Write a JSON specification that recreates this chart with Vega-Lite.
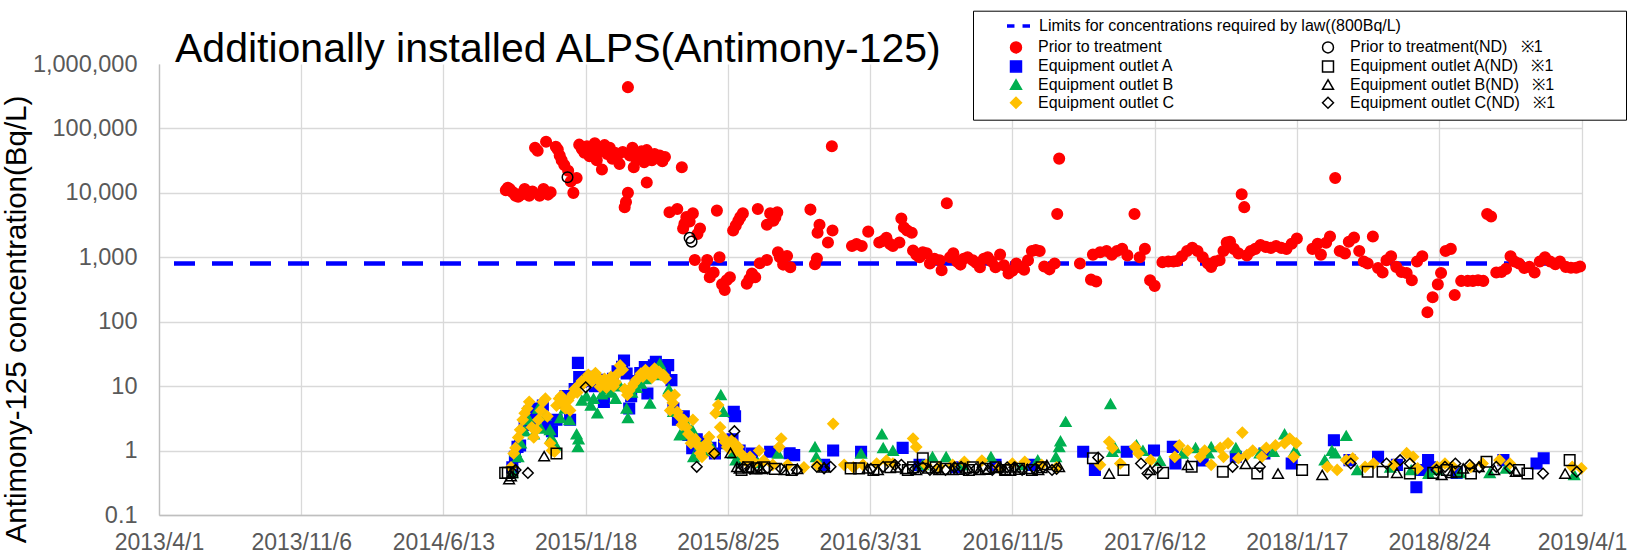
{
  "$schema": "https://vega.github.io/schema/vega-lite/v6.json",
  "autosize": {"type": "none"},
  "padding": {"left": 159, "top": 64, "right": 58, "bottom": 39},
  "width": 1423,
  "height": 451,
  "background": "#ffffff",
  "config": {"view": {"stroke": null}},
  "title": {"text": "Additionally installed ALPS(Antimony-125)", "anchor": "start", "frame": "group", "dx": 16, "fontSize": 41, "font": "Liberation Sans", "fontWeight": "normal", "color": "#000000", "baseline": "alphabetic", "offset": -93},
  "layer": [
    {
      "data": {"values": [{"limit": "Limits for concentrations required by law((800Bq/L)", "value": 800}]},
      "mark": {"type": "rule", "stroke": "#0000ff", "strokeWidth": 4.5, "strokeDashOffset": 19},
      "encoding": {
        "y": {"field": "value", "type": "quantitative", "scale": {"type": "log", "domain": [0.1, 1000000]}},
        "strokeDash": {"field": "limit", "type": "nominal", "scale": {"domain": ["Limits for concentrations required by law((800Bq/L)"], "range": [[21, 17]]},
          "legend": {"orient": "none", "legendX": 846, "legendY": -51.5, "title": null, "symbolType": "M-1,0H-0.35M0.35,0H1", "symbolSize": 529, "symbolStrokeColor": "#0000ff", "symbolStrokeWidth": 3.5, "labelFontSize": 16, "labelFont": "Liberation Sans", "labelColor": "#000000", "labelOffset": 7, "labelLimit": 600, "padding": 0, "zindex": 2}}
      }
    },
    {
      "data": {"values": [
        {"date":"2014-09-17","value":11000,"series":"Prior to treatment"},
        {"date":"2014-09-20","value":12000,"series":"Prior to treatment"},
        {"date":"2014-09-23","value":11500,"series":"Prior to treatment"},
        {"date":"2014-09-26","value":10500,"series":"Prior to treatment"},
        {"date":"2014-09-29","value":10000,"series":"Prior to treatment"},
        {"date":"2014-10-02","value":9000,"series":"Prior to treatment"},
        {"date":"2014-10-06","value":8700,"series":"Prior to treatment"},
        {"date":"2014-10-09","value":9200,"series":"Prior to treatment"},
        {"date":"2014-10-13","value":10000,"series":"Prior to treatment"},
        {"date":"2014-10-16","value":11500,"series":"Prior to treatment"},
        {"date":"2014-10-20","value":9500,"series":"Prior to treatment"},
        {"date":"2014-10-23","value":9000,"series":"Prior to treatment"},
        {"date":"2014-10-28","value":10500,"series":"Prior to treatment"},
        {"date":"2014-11-01","value":50000,"series":"Prior to treatment"},
        {"date":"2014-11-05","value":45000,"series":"Prior to treatment"},
        {"date":"2014-11-08","value":9000,"series":"Prior to treatment"},
        {"date":"2014-11-11","value":9800,"series":"Prior to treatment"},
        {"date":"2014-11-14","value":11500,"series":"Prior to treatment"},
        {"date":"2014-11-18","value":62000,"series":"Prior to treatment"},
        {"date":"2014-11-21","value":9400,"series":"Prior to treatment"},
        {"date":"2014-11-25","value":10200,"series":"Prior to treatment"},
        {"date":"2014-12-03","value":52000,"series":"Prior to treatment"},
        {"date":"2014-12-06","value":47000,"series":"Prior to treatment"},
        {"date":"2014-12-09","value":38000,"series":"Prior to treatment"},
        {"date":"2014-12-12","value":32000,"series":"Prior to treatment"},
        {"date":"2014-12-16","value":27000,"series":"Prior to treatment"},
        {"date":"2014-12-22","value":22000,"series":"Prior to treatment"},
        {"date":"2014-12-26","value":15000,"series":"Prior to treatment"},
        {"date":"2014-12-30","value":10000,"series":"Prior to treatment"},
        {"date":"2015-01-04","value":17000,"series":"Prior to treatment"},
        {"date":"2015-01-08","value":56000,"series":"Prior to treatment"},
        {"date":"2015-01-12","value":48000,"series":"Prior to treatment"},
        {"date":"2015-01-16","value":42000,"series":"Prior to treatment"},
        {"date":"2015-01-20","value":53000,"series":"Prior to treatment"},
        {"date":"2015-01-24","value":37000,"series":"Prior to treatment"},
        {"date":"2015-01-28","value":46000,"series":"Prior to treatment"},
        {"date":"2015-02-01","value":59000,"series":"Prior to treatment"},
        {"date":"2015-02-04","value":32000,"series":"Prior to treatment"},
        {"date":"2015-02-08","value":44000,"series":"Prior to treatment"},
        {"date":"2015-02-12","value":23000,"series":"Prior to treatment"},
        {"date":"2015-02-16","value":55000,"series":"Prior to treatment"},
        {"date":"2015-02-20","value":40000,"series":"Prior to treatment"},
        {"date":"2015-02-24","value":50000,"series":"Prior to treatment"},
        {"date":"2015-02-28","value":34000,"series":"Prior to treatment"},
        {"date":"2015-03-04","value":42000,"series":"Prior to treatment"},
        {"date":"2015-03-07","value":36000,"series":"Prior to treatment"},
        {"date":"2015-03-11","value":28000,"series":"Prior to treatment"},
        {"date":"2015-03-16","value":43000,"series":"Prior to treatment"},
        {"date":"2015-03-19","value":6000,"series":"Prior to treatment"},
        {"date":"2015-03-21","value":7200,"series":"Prior to treatment"},
        {"date":"2015-03-24","value":10000,"series":"Prior to treatment"},
        {"date":"2015-03-24","value":437000,"series":"Prior to treatment"},
        {"date":"2015-03-27","value":38000,"series":"Prior to treatment"},
        {"date":"2015-03-31","value":50000,"series":"Prior to treatment"},
        {"date":"2015-04-02","value":25000,"series":"Prior to treatment"},
        {"date":"2015-04-06","value":33000,"series":"Prior to treatment"},
        {"date":"2015-04-10","value":37000,"series":"Prior to treatment"},
        {"date":"2015-04-14","value":44000,"series":"Prior to treatment"},
        {"date":"2015-04-18","value":30000,"series":"Prior to treatment"},
        {"date":"2015-04-22","value":46000,"series":"Prior to treatment"},
        {"date":"2015-04-22","value":14500,"series":"Prior to treatment"},
        {"date":"2015-04-26","value":33000,"series":"Prior to treatment"},
        {"date":"2015-04-30","value":32000,"series":"Prior to treatment"},
        {"date":"2015-05-04","value":40000,"series":"Prior to treatment"},
        {"date":"2015-05-08","value":35000,"series":"Prior to treatment"},
        {"date":"2015-05-12","value":38000,"series":"Prior to treatment"},
        {"date":"2015-05-16","value":31000,"series":"Prior to treatment"},
        {"date":"2015-05-20","value":36000,"series":"Prior to treatment"},
        {"date":"2015-05-27","value":5000,"series":"Prior to treatment"},
        {"date":"2015-06-08","value":5600,"series":"Prior to treatment"},
        {"date":"2015-06-15","value":25000,"series":"Prior to treatment"},
        {"date":"2015-06-17","value":2800,"series":"Prior to treatment"},
        {"date":"2015-06-19","value":3300,"series":"Prior to treatment"},
        {"date":"2015-06-22","value":4200,"series":"Prior to treatment"},
        {"date":"2015-06-27","value":3600,"series":"Prior to treatment"},
        {"date":"2015-07-02","value":4800,"series":"Prior to treatment"},
        {"date":"2015-07-05","value":910,"series":"Prior to treatment"},
        {"date":"2015-07-09","value":2300,"series":"Prior to treatment"},
        {"date":"2015-07-13","value":2800,"series":"Prior to treatment"},
        {"date":"2015-07-20","value":700,"series":"Prior to treatment"},
        {"date":"2015-07-24","value":910,"series":"Prior to treatment"},
        {"date":"2015-07-28","value":490,"series":"Prior to treatment"},
        {"date":"2015-08-03","value":580,"series":"Prior to treatment"},
        {"date":"2015-08-08","value":5300,"series":"Prior to treatment"},
        {"date":"2015-08-12","value":1000,"series":"Prior to treatment"},
        {"date":"2015-08-16","value":380,"series":"Prior to treatment"},
        {"date":"2015-08-20","value":310,"series":"Prior to treatment"},
        {"date":"2015-08-23","value":440,"series":"Prior to treatment"},
        {"date":"2015-08-28","value":490,"series":"Prior to treatment"},
        {"date":"2015-09-02","value":2600,"series":"Prior to treatment"},
        {"date":"2015-09-06","value":3100,"series":"Prior to treatment"},
        {"date":"2015-09-10","value":3700,"series":"Prior to treatment"},
        {"date":"2015-09-13","value":4200,"series":"Prior to treatment"},
        {"date":"2015-09-17","value":4800,"series":"Prior to treatment"},
        {"date":"2015-09-23","value":390,"series":"Prior to treatment"},
        {"date":"2015-09-27","value":460,"series":"Prior to treatment"},
        {"date":"2015-10-01","value":560,"series":"Prior to treatment"},
        {"date":"2015-10-06","value":490,"series":"Prior to treatment"},
        {"date":"2015-10-10","value":5600,"series":"Prior to treatment"},
        {"date":"2015-10-13","value":810,"series":"Prior to treatment"},
        {"date":"2015-10-24","value":910,"series":"Prior to treatment"},
        {"date":"2015-10-24","value":3200,"series":"Prior to treatment"},
        {"date":"2015-10-29","value":4800,"series":"Prior to treatment"},
        {"date":"2015-11-03","value":3700,"series":"Prior to treatment"},
        {"date":"2015-11-06","value":4200,"series":"Prior to treatment"},
        {"date":"2015-11-09","value":5000,"series":"Prior to treatment"},
        {"date":"2015-11-10","value":1200,"series":"Prior to treatment"},
        {"date":"2015-11-13","value":1000,"series":"Prior to treatment"},
        {"date":"2015-11-18","value":770,"series":"Prior to treatment"},
        {"date":"2015-11-24","value":1050,"series":"Prior to treatment"},
        {"date":"2015-11-29","value":700,"series":"Prior to treatment"},
        {"date":"2015-12-30","value":5500,"series":"Prior to treatment"},
        {"date":"2016-01-06","value":780,"series":"Prior to treatment"},
        {"date":"2016-01-09","value":960,"series":"Prior to treatment"},
        {"date":"2016-01-10","value":2400,"series":"Prior to treatment"},
        {"date":"2016-01-13","value":3200,"series":"Prior to treatment"},
        {"date":"2016-01-26","value":1700,"series":"Prior to treatment"},
        {"date":"2016-02-01","value":53000,"series":"Prior to treatment"},
        {"date":"2016-02-02","value":2600,"series":"Prior to treatment"},
        {"date":"2016-03-03","value":1500,"series":"Prior to treatment"},
        {"date":"2016-03-10","value":1600,"series":"Prior to treatment"},
        {"date":"2016-03-18","value":1500,"series":"Prior to treatment"},
        {"date":"2016-03-28","value":2500,"series":"Prior to treatment"},
        {"date":"2016-04-14","value":1700,"series":"Prior to treatment"},
        {"date":"2016-04-20","value":1800,"series":"Prior to treatment"},
        {"date":"2016-04-25","value":2000,"series":"Prior to treatment"},
        {"date":"2016-05-01","value":1600,"series":"Prior to treatment"},
        {"date":"2016-05-05","value":1500,"series":"Prior to treatment"},
        {"date":"2016-05-15","value":1700,"series":"Prior to treatment"},
        {"date":"2016-05-18","value":4000,"series":"Prior to treatment"},
        {"date":"2016-05-22","value":2900,"series":"Prior to treatment"},
        {"date":"2016-05-27","value":2600,"series":"Prior to treatment"},
        {"date":"2016-06-03","value":2400,"series":"Prior to treatment"},
        {"date":"2016-06-05","value":1270,"series":"Prior to treatment"},
        {"date":"2016-06-10","value":1100,"series":"Prior to treatment"},
        {"date":"2016-06-15","value":1000,"series":"Prior to treatment"},
        {"date":"2016-06-20","value":1200,"series":"Prior to treatment"},
        {"date":"2016-06-26","value":1150,"series":"Prior to treatment"},
        {"date":"2016-07-01","value":800,"series":"Prior to treatment"},
        {"date":"2016-07-08","value":950,"series":"Prior to treatment"},
        {"date":"2016-07-16","value":900,"series":"Prior to treatment"},
        {"date":"2016-07-19","value":630,"series":"Prior to treatment"},
        {"date":"2016-07-27","value":6900,"series":"Prior to treatment"},
        {"date":"2016-08-01","value":1000,"series":"Prior to treatment"},
        {"date":"2016-08-06","value":1150,"series":"Prior to treatment"},
        {"date":"2016-08-12","value":850,"series":"Prior to treatment"},
        {"date":"2016-08-17","value":770,"series":"Prior to treatment"},
        {"date":"2016-08-22","value":950,"series":"Prior to treatment"},
        {"date":"2016-08-28","value":1000,"series":"Prior to treatment"},
        {"date":"2016-09-05","value":900,"series":"Prior to treatment"},
        {"date":"2016-09-10","value":820,"series":"Prior to treatment"},
        {"date":"2016-09-16","value":700,"series":"Prior to treatment"},
        {"date":"2016-09-22","value":950,"series":"Prior to treatment"},
        {"date":"2016-09-28","value":1000,"series":"Prior to treatment"},
        {"date":"2016-10-04","value":860,"series":"Prior to treatment"},
        {"date":"2016-10-10","value":700,"series":"Prior to treatment"},
        {"date":"2016-10-17","value":1100,"series":"Prior to treatment"},
        {"date":"2016-10-23","value":750,"series":"Prior to treatment"},
        {"date":"2016-10-30","value":560,"series":"Prior to treatment"},
        {"date":"2016-11-05","value":620,"series":"Prior to treatment"},
        {"date":"2016-11-11","value":800,"series":"Prior to treatment"},
        {"date":"2016-11-17","value":700,"series":"Prior to treatment"},
        {"date":"2016-11-23","value":640,"series":"Prior to treatment"},
        {"date":"2016-11-29","value":900,"series":"Prior to treatment"},
        {"date":"2016-12-05","value":1250,"series":"Prior to treatment"},
        {"date":"2016-12-11","value":1300,"series":"Prior to treatment"},
        {"date":"2016-12-17","value":1250,"series":"Prior to treatment"},
        {"date":"2016-12-24","value":720,"series":"Prior to treatment"},
        {"date":"2017-01-01","value":650,"series":"Prior to treatment"},
        {"date":"2017-01-09","value":800,"series":"Prior to treatment"},
        {"date":"2017-01-13","value":4700,"series":"Prior to treatment"},
        {"date":"2017-01-16","value":34000,"series":"Prior to treatment"},
        {"date":"2017-02-17","value":800,"series":"Prior to treatment"},
        {"date":"2017-03-06","value":450,"series":"Prior to treatment"},
        {"date":"2017-03-09","value":1100,"series":"Prior to treatment"},
        {"date":"2017-03-14","value":420,"series":"Prior to treatment"},
        {"date":"2017-03-20","value":1200,"series":"Prior to treatment"},
        {"date":"2017-03-30","value":1250,"series":"Prior to treatment"},
        {"date":"2017-04-07","value":1100,"series":"Prior to treatment"},
        {"date":"2017-04-15","value":1250,"series":"Prior to treatment"},
        {"date":"2017-04-23","value":1350,"series":"Prior to treatment"},
        {"date":"2017-05-01","value":1070,"series":"Prior to treatment"},
        {"date":"2017-05-12","value":4700,"series":"Prior to treatment"},
        {"date":"2017-05-20","value":1000,"series":"Prior to treatment"},
        {"date":"2017-05-28","value":1350,"series":"Prior to treatment"},
        {"date":"2017-06-05","value":440,"series":"Prior to treatment"},
        {"date":"2017-06-12","value":360,"series":"Prior to treatment"},
        {"date":"2017-06-24","value":840,"series":"Prior to treatment"},
        {"date":"2017-07-03","value":860,"series":"Prior to treatment"},
        {"date":"2017-07-11","value":860,"series":"Prior to treatment"},
        {"date":"2017-07-17","value":880,"series":"Prior to treatment"},
        {"date":"2017-07-24","value":1035,"series":"Prior to treatment"},
        {"date":"2017-08-01","value":1250,"series":"Prior to treatment"},
        {"date":"2017-08-09","value":1400,"series":"Prior to treatment"},
        {"date":"2017-08-17","value":1250,"series":"Prior to treatment"},
        {"date":"2017-08-25","value":1000,"series":"Prior to treatment"},
        {"date":"2017-09-02","value":800,"series":"Prior to treatment"},
        {"date":"2017-09-07","value":710,"series":"Prior to treatment"},
        {"date":"2017-09-13","value":860,"series":"Prior to treatment"},
        {"date":"2017-09-20","value":900,"series":"Prior to treatment"},
        {"date":"2017-09-26","value":1250,"series":"Prior to treatment"},
        {"date":"2017-10-01","value":1700,"series":"Prior to treatment"},
        {"date":"2017-10-06","value":1740,"series":"Prior to treatment"},
        {"date":"2017-10-12","value":1350,"series":"Prior to treatment"},
        {"date":"2017-10-19","value":1150,"series":"Prior to treatment"},
        {"date":"2017-10-24","value":9500,"series":"Prior to treatment"},
        {"date":"2017-10-28","value":6000,"series":"Prior to treatment"},
        {"date":"2017-11-01","value":1070,"series":"Prior to treatment"},
        {"date":"2017-11-07","value":1250,"series":"Prior to treatment"},
        {"date":"2017-11-14","value":1350,"series":"Prior to treatment"},
        {"date":"2017-11-22","value":1550,"series":"Prior to treatment"},
        {"date":"2017-11-30","value":1450,"series":"Prior to treatment"},
        {"date":"2017-12-08","value":1400,"series":"Prior to treatment"},
        {"date":"2017-12-16","value":1500,"series":"Prior to treatment"},
        {"date":"2017-12-24","value":1400,"series":"Prior to treatment"},
        {"date":"2018-01-01","value":1350,"series":"Prior to treatment"},
        {"date":"2018-01-09","value":1620,"series":"Prior to treatment"},
        {"date":"2018-01-17","value":1960,"series":"Prior to treatment"},
        {"date":"2018-02-10","value":1350,"series":"Prior to treatment"},
        {"date":"2018-02-18","value":1620,"series":"Prior to treatment"},
        {"date":"2018-02-23","value":1100,"series":"Prior to treatment"},
        {"date":"2018-03-03","value":1680,"series":"Prior to treatment"},
        {"date":"2018-03-09","value":2100,"series":"Prior to treatment"},
        {"date":"2018-03-17","value":17000,"series":"Prior to treatment"},
        {"date":"2018-03-24","value":1250,"series":"Prior to treatment"},
        {"date":"2018-04-01","value":1150,"series":"Prior to treatment"},
        {"date":"2018-04-07","value":1740,"series":"Prior to treatment"},
        {"date":"2018-04-15","value":2020,"series":"Prior to treatment"},
        {"date":"2018-04-23","value":1250,"series":"Prior to treatment"},
        {"date":"2018-04-30","value":860,"series":"Prior to treatment"},
        {"date":"2018-05-06","value":800,"series":"Prior to treatment"},
        {"date":"2018-05-14","value":2100,"series":"Prior to treatment"},
        {"date":"2018-05-22","value":680,"series":"Prior to treatment"},
        {"date":"2018-05-29","value":580,"series":"Prior to treatment"},
        {"date":"2018-06-04","value":900,"series":"Prior to treatment"},
        {"date":"2018-06-11","value":1035,"series":"Prior to treatment"},
        {"date":"2018-06-19","value":710,"series":"Prior to treatment"},
        {"date":"2018-06-27","value":590,"series":"Prior to treatment"},
        {"date":"2018-07-05","value":570,"series":"Prior to treatment"},
        {"date":"2018-07-13","value":440,"series":"Prior to treatment"},
        {"date":"2018-07-21","value":860,"series":"Prior to treatment"},
        {"date":"2018-07-29","value":1035,"series":"Prior to treatment"},
        {"date":"2018-08-06","value":140,"series":"Prior to treatment"},
        {"date":"2018-08-14","value":240,"series":"Prior to treatment"},
        {"date":"2018-08-22","value":380,"series":"Prior to treatment"},
        {"date":"2018-08-27","value":570,"series":"Prior to treatment"},
        {"date":"2018-09-03","value":1250,"series":"Prior to treatment"},
        {"date":"2018-09-11","value":1350,"series":"Prior to treatment"},
        {"date":"2018-09-17","value":260,"series":"Prior to treatment"},
        {"date":"2018-09-27","value":430,"series":"Prior to treatment"},
        {"date":"2018-10-07","value":430,"series":"Prior to treatment"},
        {"date":"2018-10-15","value":430,"series":"Prior to treatment"},
        {"date":"2018-10-23","value":440,"series":"Prior to treatment"},
        {"date":"2018-10-31","value":430,"series":"Prior to treatment"},
        {"date":"2018-11-06","value":4700,"series":"Prior to treatment"},
        {"date":"2018-11-12","value":4300,"series":"Prior to treatment"},
        {"date":"2018-11-20","value":580,"series":"Prior to treatment"},
        {"date":"2018-11-28","value":590,"series":"Prior to treatment"},
        {"date":"2018-12-05","value":660,"series":"Prior to treatment"},
        {"date":"2018-12-12","value":1035,"series":"Prior to treatment"},
        {"date":"2018-12-18","value":860,"series":"Prior to treatment"},
        {"date":"2018-12-25","value":800,"series":"Prior to treatment"},
        {"date":"2019-01-02","value":680,"series":"Prior to treatment"},
        {"date":"2019-01-10","value":710,"series":"Prior to treatment"},
        {"date":"2019-01-18","value":580,"series":"Prior to treatment"},
        {"date":"2019-01-26","value":860,"series":"Prior to treatment"},
        {"date":"2019-02-03","value":1000,"series":"Prior to treatment"},
        {"date":"2019-02-11","value":860,"series":"Prior to treatment"},
        {"date":"2019-02-19","value":780,"series":"Prior to treatment"},
        {"date":"2019-02-26","value":860,"series":"Prior to treatment"},
        {"date":"2019-03-07","value":710,"series":"Prior to treatment"},
        {"date":"2019-03-15","value":690,"series":"Prior to treatment"},
        {"date":"2019-03-23","value":690,"series":"Prior to treatment"},
        {"date":"2019-03-29","value":720,"series":"Prior to treatment"},

        {"date":"2014-09-27","value":0.55,"series":"Equipment outlet A"},
        {"date":"2014-10-01","value":0.8,"series":"Equipment outlet A"},
        {"date":"2014-10-05","value":1.14,"series":"Equipment outlet A"},
        {"date":"2014-10-09","value":1.2,"series":"Equipment outlet A"},
        {"date":"2014-10-16","value":2.5,"series":"Equipment outlet A"},
        {"date":"2014-10-23","value":4.0,"series":"Equipment outlet A"},
        {"date":"2014-10-30","value":3.0,"series":"Equipment outlet A"},
        {"date":"2014-11-06","value":4.5,"series":"Equipment outlet A"},
        {"date":"2014-11-13","value":5.0,"series":"Equipment outlet A"},
        {"date":"2014-11-20","value":2.5,"series":"Equipment outlet A"},
        {"date":"2014-11-27","value":2.0,"series":"Equipment outlet A"},
        {"date":"2014-12-04","value":3.0,"series":"Equipment outlet A"},
        {"date":"2014-12-11","value":5.5,"series":"Equipment outlet A"},
        {"date":"2014-12-18","value":7.0,"series":"Equipment outlet A"},
        {"date":"2014-12-25","value":3.0,"series":"Equipment outlet A"},
        {"date":"2015-01-01","value":9.0,"series":"Equipment outlet A"},
        {"date":"2015-01-06","value":23,"series":"Equipment outlet A"},
        {"date":"2015-01-08","value":13.9,"series":"Equipment outlet A"},
        {"date":"2015-01-11","value":11.7,"series":"Equipment outlet A"},
        {"date":"2015-01-18","value":12,"series":"Equipment outlet A"},
        {"date":"2015-01-25","value":14,"series":"Equipment outlet A"},
        {"date":"2015-02-01","value":10,"series":"Equipment outlet A"},
        {"date":"2015-02-08","value":12.5,"series":"Equipment outlet A"},
        {"date":"2015-02-15","value":5.7,"series":"Equipment outlet A"},
        {"date":"2015-02-22","value":11,"series":"Equipment outlet A"},
        {"date":"2015-03-01","value":13,"series":"Equipment outlet A"},
        {"date":"2015-03-08","value":17,"series":"Equipment outlet A"},
        {"date":"2015-03-15","value":20,"series":"Equipment outlet A"},
        {"date":"2015-03-18","value":25,"series":"Equipment outlet A"},
        {"date":"2015-03-22","value":15.7,"series":"Equipment outlet A"},
        {"date":"2015-03-26","value":4.5,"series":"Equipment outlet A"},
        {"date":"2015-03-29","value":7,"series":"Equipment outlet A"},
        {"date":"2015-04-05","value":12,"series":"Equipment outlet A"},
        {"date":"2015-04-12","value":16,"series":"Equipment outlet A"},
        {"date":"2015-04-19","value":19.8,"series":"Equipment outlet A"},
        {"date":"2015-04-23","value":7.7,"series":"Equipment outlet A"},
        {"date":"2015-04-26","value":18,"series":"Equipment outlet A"},
        {"date":"2015-05-03","value":21,"series":"Equipment outlet A"},
        {"date":"2015-05-06","value":23.9,"series":"Equipment outlet A"},
        {"date":"2015-05-13","value":20,"series":"Equipment outlet A"},
        {"date":"2015-05-20","value":17,"series":"Equipment outlet A"},
        {"date":"2015-05-25","value":21.2,"series":"Equipment outlet A"},
        {"date":"2015-05-30","value":12.4,"series":"Equipment outlet A"},
        {"date":"2015-06-02","value":4.5,"series":"Equipment outlet A"},
        {"date":"2015-06-09","value":3.0,"series":"Equipment outlet A"},
        {"date":"2015-06-18","value":3.4,"series":"Equipment outlet A"},
        {"date":"2015-06-25","value":1.74,"series":"Equipment outlet A"},
        {"date":"2015-07-01","value":1.09,"series":"Equipment outlet A"},
        {"date":"2015-07-08","value":1.5,"series":"Equipment outlet A"},
        {"date":"2015-07-15","value":1.3,"series":"Equipment outlet A"},
        {"date":"2015-07-22","value":1.0,"series":"Equipment outlet A"},
        {"date":"2015-07-29","value":1.1,"series":"Equipment outlet A"},
        {"date":"2015-08-05","value":0.9,"series":"Equipment outlet A"},
        {"date":"2015-08-19","value":1.3,"series":"Equipment outlet A"},
        {"date":"2015-09-01","value":1.5,"series":"Equipment outlet A"},
        {"date":"2015-09-03","value":4.0,"series":"Equipment outlet A"},
        {"date":"2015-09-05","value":3.4,"series":"Equipment outlet A"},
        {"date":"2015-09-12","value":1.0,"series":"Equipment outlet A"},
        {"date":"2015-09-20","value":0.75,"series":"Equipment outlet A"},
        {"date":"2015-10-01","value":0.9,"series":"Equipment outlet A"},
        {"date":"2015-10-29","value":0.96,"series":"Equipment outlet A"},
        {"date":"2015-11-28","value":0.91,"series":"Equipment outlet A"},
        {"date":"2015-12-05","value":0.85,"series":"Equipment outlet A"},
        {"date":"2016-01-20","value":0.6,"series":"Equipment outlet A"},
        {"date":"2016-02-03","value":1.0,"series":"Equipment outlet A"},
        {"date":"2016-03-17","value":0.96,"series":"Equipment outlet A"},
        {"date":"2016-05-20","value":1.1,"series":"Equipment outlet A"},
        {"date":"2016-06-15","value":0.6,"series":"Equipment outlet A"},
        {"date":"2016-08-10","value":0.55,"series":"Equipment outlet A"},
        {"date":"2016-10-10","value":0.6,"series":"Equipment outlet A"},
        {"date":"2016-12-05","value":0.6,"series":"Equipment outlet A"},
        {"date":"2017-02-22","value":0.96,"series":"Equipment outlet A"},
        {"date":"2017-03-12","value":0.5,"series":"Equipment outlet A"},
        {"date":"2017-04-30","value":0.96,"series":"Equipment outlet A"},
        {"date":"2017-06-11","value":1.0,"series":"Equipment outlet A"},
        {"date":"2017-07-10","value":1.14,"series":"Equipment outlet A"},
        {"date":"2017-07-14","value":0.63,"series":"Equipment outlet A"},
        {"date":"2017-08-25","value":0.7,"series":"Equipment outlet A"},
        {"date":"2017-10-15","value":0.8,"series":"Equipment outlet A"},
        {"date":"2017-11-28","value":0.9,"series":"Equipment outlet A"},
        {"date":"2018-01-09","value":0.63,"series":"Equipment outlet A"},
        {"date":"2018-03-15","value":1.45,"series":"Equipment outlet A"},
        {"date":"2018-04-08","value":0.71,"series":"Equipment outlet A"},
        {"date":"2018-05-22","value":0.8,"series":"Equipment outlet A"},
        {"date":"2018-06-20","value":0.6,"series":"Equipment outlet A"},
        {"date":"2018-07-20","value":0.27,"series":"Equipment outlet A"},
        {"date":"2018-07-28","value":0.5,"series":"Equipment outlet A"},
        {"date":"2018-08-07","value":0.71,"series":"Equipment outlet A"},
        {"date":"2018-08-10","value":0.55,"series":"Equipment outlet A"},
        {"date":"2018-09-20","value":0.45,"series":"Equipment outlet A"},
        {"date":"2018-12-01","value":0.71,"series":"Equipment outlet A"},
        {"date":"2019-01-21","value":0.63,"series":"Equipment outlet A"},
        {"date":"2019-02-01","value":0.76,"series":"Equipment outlet A"},

        {"date":"2014-09-27","value":0.45,"series":"Equipment outlet B"},
        {"date":"2014-10-02","value":0.96,"series":"Equipment outlet B"},
        {"date":"2014-10-06","value":0.8,"series":"Equipment outlet B"},
        {"date":"2014-10-10","value":1.3,"series":"Equipment outlet B"},
        {"date":"2014-10-16","value":2.0,"series":"Equipment outlet B"},
        {"date":"2014-10-23","value":3.0,"series":"Equipment outlet B"},
        {"date":"2014-10-30","value":1.8,"series":"Equipment outlet B"},
        {"date":"2014-11-06","value":4.5,"series":"Equipment outlet B"},
        {"date":"2014-11-10","value":2.2,"series":"Equipment outlet B"},
        {"date":"2014-11-17","value":3.5,"series":"Equipment outlet B"},
        {"date":"2014-11-24","value":2.1,"series":"Equipment outlet B"},
        {"date":"2014-11-26","value":1.6,"series":"Equipment outlet B"},
        {"date":"2014-12-03","value":1.2,"series":"Equipment outlet B"},
        {"date":"2014-12-10","value":3.2,"series":"Equipment outlet B"},
        {"date":"2014-12-17","value":4.5,"series":"Equipment outlet B"},
        {"date":"2014-12-24","value":3.0,"series":"Equipment outlet B"},
        {"date":"2015-01-04","value":1.8,"series":"Equipment outlet B"},
        {"date":"2015-01-06","value":1.14,"series":"Equipment outlet B"},
        {"date":"2015-01-07","value":1.5,"series":"Equipment outlet B"},
        {"date":"2015-01-12","value":6.0,"series":"Equipment outlet B"},
        {"date":"2015-01-19","value":7.0,"series":"Equipment outlet B"},
        {"date":"2015-01-26","value":5.0,"series":"Equipment outlet B"},
        {"date":"2015-01-30","value":6.4,"series":"Equipment outlet B"},
        {"date":"2015-02-05","value":3.8,"series":"Equipment outlet B"},
        {"date":"2015-02-12","value":7.5,"series":"Equipment outlet B"},
        {"date":"2015-02-19","value":9.0,"series":"Equipment outlet B"},
        {"date":"2015-02-26","value":8.0,"series":"Equipment outlet B"},
        {"date":"2015-03-05","value":6.4,"series":"Equipment outlet B"},
        {"date":"2015-03-12","value":10,"series":"Equipment outlet B"},
        {"date":"2015-03-22","value":4.5,"series":"Equipment outlet B"},
        {"date":"2015-03-24","value":3.2,"series":"Equipment outlet B"},
        {"date":"2015-03-30","value":8.0,"series":"Equipment outlet B"},
        {"date":"2015-04-06","value":9.5,"series":"Equipment outlet B"},
        {"date":"2015-04-13","value":11,"series":"Equipment outlet B"},
        {"date":"2015-04-20","value":13,"series":"Equipment outlet B"},
        {"date":"2015-04-27","value":5.4,"series":"Equipment outlet B"},
        {"date":"2015-05-04","value":15,"series":"Equipment outlet B"},
        {"date":"2015-05-12","value":22.3,"series":"Equipment outlet B"},
        {"date":"2015-05-19","value":16,"series":"Equipment outlet B"},
        {"date":"2015-05-26","value":9.0,"series":"Equipment outlet B"},
        {"date":"2015-06-02","value":4.0,"series":"Equipment outlet B"},
        {"date":"2015-06-12","value":1.74,"series":"Equipment outlet B"},
        {"date":"2015-06-16","value":1.8,"series":"Equipment outlet B"},
        {"date":"2015-06-23","value":2.5,"series":"Equipment outlet B"},
        {"date":"2015-07-01","value":2.1,"series":"Equipment outlet B"},
        {"date":"2015-07-03","value":0.8,"series":"Equipment outlet B"},
        {"date":"2015-07-06","value":1.63,"series":"Equipment outlet B"},
        {"date":"2015-07-13","value":1.2,"series":"Equipment outlet B"},
        {"date":"2015-07-20","value":1.0,"series":"Equipment outlet B"},
        {"date":"2015-07-27","value":1.3,"series":"Equipment outlet B"},
        {"date":"2015-08-03","value":1.0,"series":"Equipment outlet B"},
        {"date":"2015-08-14","value":7.3,"series":"Equipment outlet B"},
        {"date":"2015-08-18","value":4.0,"series":"Equipment outlet B"},
        {"date":"2015-08-25","value":1.3,"series":"Equipment outlet B"},
        {"date":"2015-09-02","value":0.9,"series":"Equipment outlet B"},
        {"date":"2015-09-06","value":0.71,"series":"Equipment outlet B"},
        {"date":"2015-09-15","value":0.8,"series":"Equipment outlet B"},
        {"date":"2015-10-10","value":0.65,"series":"Equipment outlet B"},
        {"date":"2015-11-10","value":0.9,"series":"Equipment outlet B"},
        {"date":"2016-01-06","value":1.14,"series":"Equipment outlet B"},
        {"date":"2016-01-08","value":0.8,"series":"Equipment outlet B"},
        {"date":"2016-03-17","value":0.9,"series":"Equipment outlet B"},
        {"date":"2016-04-18","value":1.8,"series":"Equipment outlet B"},
        {"date":"2016-04-20","value":1.1,"series":"Equipment outlet B"},
        {"date":"2016-05-05","value":1.0,"series":"Equipment outlet B"},
        {"date":"2016-06-20","value":0.6,"series":"Equipment outlet B"},
        {"date":"2016-07-05","value":0.8,"series":"Equipment outlet B"},
        {"date":"2016-07-26","value":0.8,"series":"Equipment outlet B"},
        {"date":"2016-08-20","value":0.6,"series":"Equipment outlet B"},
        {"date":"2016-10-03","value":0.8,"series":"Equipment outlet B"},
        {"date":"2016-11-20","value":0.6,"series":"Equipment outlet B"},
        {"date":"2016-12-14","value":0.71,"series":"Equipment outlet B"},
        {"date":"2017-01-11","value":0.8,"series":"Equipment outlet B"},
        {"date":"2017-01-16","value":1.14,"series":"Equipment outlet B"},
        {"date":"2017-01-18","value":1.4,"series":"Equipment outlet B"},
        {"date":"2017-01-26","value":2.8,"series":"Equipment outlet B"},
        {"date":"2017-04-05","value":5.3,"series":"Equipment outlet B"},
        {"date":"2017-04-08","value":0.96,"series":"Equipment outlet B"},
        {"date":"2017-04-12","value":1.1,"series":"Equipment outlet B"},
        {"date":"2017-05-15","value":1.22,"series":"Equipment outlet B"},
        {"date":"2017-05-25","value":1.0,"series":"Equipment outlet B"},
        {"date":"2017-06-20","value":0.7,"series":"Equipment outlet B"},
        {"date":"2017-07-25","value":0.9,"series":"Equipment outlet B"},
        {"date":"2017-08-14","value":1.1,"series":"Equipment outlet B"},
        {"date":"2017-09-03","value":0.91,"series":"Equipment outlet B"},
        {"date":"2017-09-07","value":1.14,"series":"Equipment outlet B"},
        {"date":"2017-10-15","value":1.1,"series":"Equipment outlet B"},
        {"date":"2017-11-21","value":0.91,"series":"Equipment outlet B"},
        {"date":"2017-12-12","value":0.96,"series":"Equipment outlet B"},
        {"date":"2017-12-29","value":1.8,"series":"Equipment outlet B"},
        {"date":"2018-01-14","value":1.0,"series":"Equipment outlet B"},
        {"date":"2018-03-01","value":0.71,"series":"Equipment outlet B"},
        {"date":"2018-03-12","value":1.0,"series":"Equipment outlet B"},
        {"date":"2018-03-17","value":0.91,"series":"Equipment outlet B"},
        {"date":"2018-04-03","value":1.7,"series":"Equipment outlet B"},
        {"date":"2018-04-20","value":0.5,"series":"Equipment outlet B"},
        {"date":"2018-06-10","value":0.55,"series":"Equipment outlet B"},
        {"date":"2018-07-12","value":0.5,"series":"Equipment outlet B"},
        {"date":"2018-08-08","value":0.44,"series":"Equipment outlet B"},
        {"date":"2018-08-21","value":0.5,"series":"Equipment outlet B"},
        {"date":"2018-09-25","value":0.45,"series":"Equipment outlet B"},
        {"date":"2018-11-10","value":0.45,"series":"Equipment outlet B"},
        {"date":"2018-12-05","value":0.53,"series":"Equipment outlet B"},
        {"date":"2019-03-20","value":0.42,"series":"Equipment outlet B"},

        {"date":"2014-09-25","value":0.55,"series":"Equipment outlet C"},
        {"date":"2014-09-29","value":0.9,"series":"Equipment outlet C"},
        {"date":"2014-10-02","value":1.1,"series":"Equipment outlet C"},
        {"date":"2014-10-06","value":1.6,"series":"Equipment outlet C"},
        {"date":"2014-10-09","value":2.1,"series":"Equipment outlet C"},
        {"date":"2014-10-13","value":3.0,"series":"Equipment outlet C"},
        {"date":"2014-10-16","value":3.8,"series":"Equipment outlet C"},
        {"date":"2014-10-20","value":4.5,"series":"Equipment outlet C"},
        {"date":"2014-10-23","value":5.7,"series":"Equipment outlet C"},
        {"date":"2014-10-27","value":2.3,"series":"Equipment outlet C"},
        {"date":"2014-10-30","value":1.6,"series":"Equipment outlet C"},
        {"date":"2014-11-03","value":2.1,"series":"Equipment outlet C"},
        {"date":"2014-11-06","value":3.0,"series":"Equipment outlet C"},
        {"date":"2014-11-10","value":4.2,"series":"Equipment outlet C"},
        {"date":"2014-11-13","value":5.7,"series":"Equipment outlet C"},
        {"date":"2014-11-17","value":6.4,"series":"Equipment outlet C"},
        {"date":"2014-11-20","value":3.4,"series":"Equipment outlet C"},
        {"date":"2014-11-24","value":1.3,"series":"Equipment outlet C"},
        {"date":"2014-11-27","value":1.0,"series":"Equipment outlet C"},
        {"date":"2014-12-01","value":0.96,"series":"Equipment outlet C"},
        {"date":"2014-12-04","value":5.0,"series":"Equipment outlet C"},
        {"date":"2014-12-08","value":6.4,"series":"Equipment outlet C"},
        {"date":"2014-12-11","value":7.0,"series":"Equipment outlet C"},
        {"date":"2014-12-15","value":5.5,"series":"Equipment outlet C"},
        {"date":"2014-12-18","value":4.5,"series":"Equipment outlet C"},
        {"date":"2014-12-22","value":6.0,"series":"Equipment outlet C"},
        {"date":"2014-12-25","value":4.2,"series":"Equipment outlet C"},
        {"date":"2014-12-29","value":7.5,"series":"Equipment outlet C"},
        {"date":"2015-01-01","value":9.0,"series":"Equipment outlet C"},
        {"date":"2015-01-05","value":8.0,"series":"Equipment outlet C"},
        {"date":"2015-01-08","value":10.5,"series":"Equipment outlet C"},
        {"date":"2015-01-12","value":12,"series":"Equipment outlet C"},
        {"date":"2015-01-15","value":11,"series":"Equipment outlet C"},
        {"date":"2015-01-19","value":13,"series":"Equipment outlet C"},
        {"date":"2015-01-22","value":15,"series":"Equipment outlet C"},
        {"date":"2015-01-26","value":11.5,"series":"Equipment outlet C"},
        {"date":"2015-01-29","value":12.3,"series":"Equipment outlet C"},
        {"date":"2015-02-02","value":16,"series":"Equipment outlet C"},
        {"date":"2015-02-05","value":14,"series":"Equipment outlet C"},
        {"date":"2015-02-09","value":9.8,"series":"Equipment outlet C"},
        {"date":"2015-02-12","value":11,"series":"Equipment outlet C"},
        {"date":"2015-02-16","value":13,"series":"Equipment outlet C"},
        {"date":"2015-02-19","value":9.5,"series":"Equipment outlet C"},
        {"date":"2015-02-23","value":12,"series":"Equipment outlet C"},
        {"date":"2015-02-26","value":14,"series":"Equipment outlet C"},
        {"date":"2015-03-02","value":10,"series":"Equipment outlet C"},
        {"date":"2015-03-05","value":11.5,"series":"Equipment outlet C"},
        {"date":"2015-03-09","value":16,"series":"Equipment outlet C"},
        {"date":"2015-03-12","value":21,"series":"Equipment outlet C"},
        {"date":"2015-03-16","value":18,"series":"Equipment outlet C"},
        {"date":"2015-03-19","value":9,"series":"Equipment outlet C"},
        {"date":"2015-03-23","value":7.3,"series":"Equipment outlet C"},
        {"date":"2015-03-26","value":8.5,"series":"Equipment outlet C"},
        {"date":"2015-03-30","value":9.8,"series":"Equipment outlet C"},
        {"date":"2015-04-02","value":11,"series":"Equipment outlet C"},
        {"date":"2015-04-06","value":12.5,"series":"Equipment outlet C"},
        {"date":"2015-04-09","value":13.2,"series":"Equipment outlet C"},
        {"date":"2015-04-13","value":15.7,"series":"Equipment outlet C"},
        {"date":"2015-04-16","value":14,"series":"Equipment outlet C"},
        {"date":"2015-04-20","value":17.8,"series":"Equipment outlet C"},
        {"date":"2015-04-23","value":16,"series":"Equipment outlet C"},
        {"date":"2015-04-27","value":14.9,"series":"Equipment outlet C"},
        {"date":"2015-04-30","value":13.5,"series":"Equipment outlet C"},
        {"date":"2015-05-04","value":18.8,"series":"Equipment outlet C"},
        {"date":"2015-05-07","value":17,"series":"Equipment outlet C"},
        {"date":"2015-05-11","value":16.7,"series":"Equipment outlet C"},
        {"date":"2015-05-14","value":15,"series":"Equipment outlet C"},
        {"date":"2015-05-18","value":14.9,"series":"Equipment outlet C"},
        {"date":"2015-05-21","value":13.2,"series":"Equipment outlet C"},
        {"date":"2015-05-25","value":7.1,"series":"Equipment outlet C"},
        {"date":"2015-05-28","value":4.2,"series":"Equipment outlet C"},
        {"date":"2015-06-01","value":5.5,"series":"Equipment outlet C"},
        {"date":"2015-06-04","value":7.3,"series":"Equipment outlet C"},
        {"date":"2015-06-08","value":4.0,"series":"Equipment outlet C"},
        {"date":"2015-06-11","value":3.4,"series":"Equipment outlet C"},
        {"date":"2015-06-15","value":2.5,"series":"Equipment outlet C"},
        {"date":"2015-06-18","value":3.0,"series":"Equipment outlet C"},
        {"date":"2015-06-22","value":2.3,"series":"Equipment outlet C"},
        {"date":"2015-06-25","value":1.8,"series":"Equipment outlet C"},
        {"date":"2015-06-29","value":1.3,"series":"Equipment outlet C"},
        {"date":"2015-07-02","value":3.0,"series":"Equipment outlet C"},
        {"date":"2015-07-06","value":1.5,"series":"Equipment outlet C"},
        {"date":"2015-07-09","value":1.22,"series":"Equipment outlet C"},
        {"date":"2015-07-13","value":0.91,"series":"Equipment outlet C"},
        {"date":"2015-07-16","value":0.8,"series":"Equipment outlet C"},
        {"date":"2015-07-20","value":1.14,"series":"Equipment outlet C"},
        {"date":"2015-07-23","value":1.3,"series":"Equipment outlet C"},
        {"date":"2015-07-27","value":1.63,"series":"Equipment outlet C"},
        {"date":"2015-07-30","value":1.0,"series":"Equipment outlet C"},
        {"date":"2015-08-03","value":0.9,"series":"Equipment outlet C"},
        {"date":"2015-08-06","value":3.8,"series":"Equipment outlet C"},
        {"date":"2015-08-10","value":5.1,"series":"Equipment outlet C"},
        {"date":"2015-08-13","value":2.3,"series":"Equipment outlet C"},
        {"date":"2015-08-17","value":1.63,"series":"Equipment outlet C"},
        {"date":"2015-08-20","value":1.37,"series":"Equipment outlet C"},
        {"date":"2015-08-24","value":1.14,"series":"Equipment outlet C"},
        {"date":"2015-08-27","value":1.09,"series":"Equipment outlet C"},
        {"date":"2015-08-31","value":1.44,"series":"Equipment outlet C"},
        {"date":"2015-09-03","value":1.3,"series":"Equipment outlet C"},
        {"date":"2015-09-07","value":1.0,"series":"Equipment outlet C"},
        {"date":"2015-09-10","value":1.14,"series":"Equipment outlet C"},
        {"date":"2015-09-14","value":0.9,"series":"Equipment outlet C"},
        {"date":"2015-09-21","value":0.7,"series":"Equipment outlet C"},
        {"date":"2015-09-28","value":0.8,"series":"Equipment outlet C"},
        {"date":"2015-10-05","value":0.65,"series":"Equipment outlet C"},
        {"date":"2015-10-12","value":1.0,"series":"Equipment outlet C"},
        {"date":"2015-10-19","value":0.7,"series":"Equipment outlet C"},
        {"date":"2015-11-02","value":0.6,"series":"Equipment outlet C"},
        {"date":"2015-11-12","value":1.14,"series":"Equipment outlet C"},
        {"date":"2015-11-15","value":1.54,"series":"Equipment outlet C"},
        {"date":"2015-11-25","value":0.6,"series":"Equipment outlet C"},
        {"date":"2015-12-20","value":0.55,"series":"Equipment outlet C"},
        {"date":"2016-01-10","value":0.6,"series":"Equipment outlet C"},
        {"date":"2016-02-03","value":2.6,"series":"Equipment outlet C"},
        {"date":"2016-02-20","value":0.6,"series":"Equipment outlet C"},
        {"date":"2016-03-05","value":0.55,"series":"Equipment outlet C"},
        {"date":"2016-03-20","value":0.6,"series":"Equipment outlet C"},
        {"date":"2016-04-10","value":0.63,"series":"Equipment outlet C"},
        {"date":"2016-04-25","value":0.7,"series":"Equipment outlet C"},
        {"date":"2016-05-05","value":0.63,"series":"Equipment outlet C"},
        {"date":"2016-06-05","value":1.54,"series":"Equipment outlet C"},
        {"date":"2016-06-10","value":1.14,"series":"Equipment outlet C"},
        {"date":"2016-06-25","value":0.6,"series":"Equipment outlet C"},
        {"date":"2016-07-15","value":0.56,"series":"Equipment outlet C"},
        {"date":"2016-08-05","value":0.6,"series":"Equipment outlet C"},
        {"date":"2016-08-23","value":0.67,"series":"Equipment outlet C"},
        {"date":"2016-09-19","value":0.7,"series":"Equipment outlet C"},
        {"date":"2016-10-15","value":0.55,"series":"Equipment outlet C"},
        {"date":"2016-11-05","value":0.63,"series":"Equipment outlet C"},
        {"date":"2016-11-24","value":0.67,"series":"Equipment outlet C"},
        {"date":"2016-12-20","value":0.6,"series":"Equipment outlet C"},
        {"date":"2017-01-12","value":0.55,"series":"Equipment outlet C"},
        {"date":"2017-03-20","value":0.6,"series":"Equipment outlet C"},
        {"date":"2017-04-03","value":1.37,"series":"Equipment outlet C"},
        {"date":"2017-04-08","value":1.1,"series":"Equipment outlet C"},
        {"date":"2017-04-20","value":0.63,"series":"Equipment outlet C"},
        {"date":"2017-05-13","value":1.14,"series":"Equipment outlet C"},
        {"date":"2017-05-18","value":0.9,"series":"Equipment outlet C"},
        {"date":"2017-06-06","value":0.71,"series":"Equipment outlet C"},
        {"date":"2017-07-13","value":0.8,"series":"Equipment outlet C"},
        {"date":"2017-07-20","value":1.2,"series":"Equipment outlet C"},
        {"date":"2017-08-02","value":1.0,"series":"Equipment outlet C"},
        {"date":"2017-08-21","value":0.8,"series":"Equipment outlet C"},
        {"date":"2017-08-28","value":1.0,"series":"Equipment outlet C"},
        {"date":"2017-09-07","value":0.6,"series":"Equipment outlet C"},
        {"date":"2017-09-21","value":1.1,"series":"Equipment outlet C"},
        {"date":"2017-09-26","value":0.8,"series":"Equipment outlet C"},
        {"date":"2017-10-03","value":1.3,"series":"Equipment outlet C"},
        {"date":"2017-10-19","value":0.76,"series":"Equipment outlet C"},
        {"date":"2017-10-25","value":1.9,"series":"Equipment outlet C"},
        {"date":"2017-11-01","value":0.85,"series":"Equipment outlet C"},
        {"date":"2017-11-10","value":1.0,"series":"Equipment outlet C"},
        {"date":"2017-11-24","value":0.8,"series":"Equipment outlet C"},
        {"date":"2017-12-01","value":1.1,"series":"Equipment outlet C"},
        {"date":"2017-12-15","value":1.2,"series":"Equipment outlet C"},
        {"date":"2017-12-29","value":1.3,"series":"Equipment outlet C"},
        {"date":"2018-01-06","value":1.54,"series":"Equipment outlet C"},
        {"date":"2018-01-12","value":0.8,"series":"Equipment outlet C"},
        {"date":"2018-01-16","value":1.3,"series":"Equipment outlet C"},
        {"date":"2018-03-05","value":0.56,"series":"Equipment outlet C"},
        {"date":"2018-03-20","value":0.5,"series":"Equipment outlet C"},
        {"date":"2018-04-03","value":0.71,"series":"Equipment outlet C"},
        {"date":"2018-04-13","value":0.76,"series":"Equipment outlet C"},
        {"date":"2018-05-02","value":0.56,"series":"Equipment outlet C"},
        {"date":"2018-05-15","value":0.63,"series":"Equipment outlet C"},
        {"date":"2018-06-15","value":0.6,"series":"Equipment outlet C"},
        {"date":"2018-07-05","value":0.91,"series":"Equipment outlet C"},
        {"date":"2018-07-15","value":0.8,"series":"Equipment outlet C"},
        {"date":"2018-07-22","value":0.53,"series":"Equipment outlet C"},
        {"date":"2018-08-21","value":0.56,"series":"Equipment outlet C"},
        {"date":"2018-09-02","value":0.63,"series":"Equipment outlet C"},
        {"date":"2018-09-14","value":0.56,"series":"Equipment outlet C"},
        {"date":"2018-10-12","value":0.56,"series":"Equipment outlet C"},
        {"date":"2018-10-30","value":0.63,"series":"Equipment outlet C"},
        {"date":"2018-11-25","value":0.71,"series":"Equipment outlet C"},
        {"date":"2018-12-11","value":0.63,"series":"Equipment outlet C"},
        {"date":"2019-03-17","value":0.56,"series":"Equipment outlet C"},
        {"date":"2019-03-31","value":0.53,"series":"Equipment outlet C"},

        {"date":"2014-12-21","value":17500,"series":"Prior to treatment(ND)"},
        {"date":"2015-06-27","value":2000,"series":"Prior to treatment(ND)"},
        {"date":"2015-06-30","value":1750,"series":"Prior to treatment(ND)"},

        {"date":"2014-09-16","value":0.45,"series":"Equipment outlet A(ND)"},
        {"date":"2014-09-20","value":0.45,"series":"Equipment outlet A(ND)"},
        {"date":"2014-09-27","value":0.46,"series":"Equipment outlet A(ND)"},
        {"date":"2014-12-04","value":0.9,"series":"Equipment outlet A(ND)"},
        {"date":"2015-09-15","value":0.5,"series":"Equipment outlet A(ND)"},
        {"date":"2015-09-25","value":0.55,"series":"Equipment outlet A(ND)"},
        {"date":"2015-10-08","value":0.53,"series":"Equipment outlet A(ND)"},
        {"date":"2015-10-20","value":0.55,"series":"Equipment outlet A(ND)"},
        {"date":"2015-11-05","value":0.52,"series":"Equipment outlet A(ND)"},
        {"date":"2015-12-01","value":0.5,"series":"Equipment outlet A(ND)"},
        {"date":"2016-03-01","value":0.53,"series":"Equipment outlet A(ND)"},
        {"date":"2016-03-14","value":0.53,"series":"Equipment outlet A(ND)"},
        {"date":"2016-04-05","value":0.5,"series":"Equipment outlet A(ND)"},
        {"date":"2016-05-01","value":0.55,"series":"Equipment outlet A(ND)"},
        {"date":"2016-05-28","value":0.5,"series":"Equipment outlet A(ND)"},
        {"date":"2016-06-05","value":0.55,"series":"Equipment outlet A(ND)"},
        {"date":"2016-06-20","value":0.76,"series":"Equipment outlet A(ND)"},
        {"date":"2016-07-10","value":0.55,"series":"Equipment outlet A(ND)"},
        {"date":"2016-07-25","value":0.52,"series":"Equipment outlet A(ND)"},
        {"date":"2016-08-15","value":0.52,"series":"Equipment outlet A(ND)"},
        {"date":"2016-08-30","value":0.5,"series":"Equipment outlet A(ND)"},
        {"date":"2016-09-05","value":0.55,"series":"Equipment outlet A(ND)"},
        {"date":"2016-09-25","value":0.52,"series":"Equipment outlet A(ND)"},
        {"date":"2016-10-10","value":0.55,"series":"Equipment outlet A(ND)"},
        {"date":"2016-10-25","value":0.5,"series":"Equipment outlet A(ND)"},
        {"date":"2016-11-02","value":0.5,"series":"Equipment outlet A(ND)"},
        {"date":"2016-11-15","value":0.52,"series":"Equipment outlet A(ND)"},
        {"date":"2016-12-05","value":0.5,"series":"Equipment outlet A(ND)"},
        {"date":"2016-12-20","value":0.55,"series":"Equipment outlet A(ND)"},
        {"date":"2017-03-09","value":0.76,"series":"Equipment outlet A(ND)"},
        {"date":"2017-04-25","value":0.5,"series":"Equipment outlet A(ND)"},
        {"date":"2017-06-25","value":0.45,"series":"Equipment outlet A(ND)"},
        {"date":"2017-08-08","value":0.56,"series":"Equipment outlet A(ND)"},
        {"date":"2017-09-25","value":0.47,"series":"Equipment outlet A(ND)"},
        {"date":"2017-11-17","value":0.44,"series":"Equipment outlet A(ND)"},
        {"date":"2018-01-25","value":0.5,"series":"Equipment outlet A(ND)"},
        {"date":"2018-05-06","value":0.47,"series":"Equipment outlet A(ND)"},
        {"date":"2018-05-29","value":0.47,"series":"Equipment outlet A(ND)"},
        {"date":"2018-07-10","value":0.44,"series":"Equipment outlet A(ND)"},
        {"date":"2018-08-15","value":0.45,"series":"Equipment outlet A(ND)"},
        {"date":"2018-09-05","value":0.5,"series":"Equipment outlet A(ND)"},
        {"date":"2018-09-20","value":0.47,"series":"Equipment outlet A(ND)"},
        {"date":"2018-10-12","value":0.44,"series":"Equipment outlet A(ND)"},
        {"date":"2018-11-05","value":0.67,"series":"Equipment outlet A(ND)"},
        {"date":"2018-12-25","value":0.5,"series":"Equipment outlet A(ND)"},
        {"date":"2019-01-07","value":0.44,"series":"Equipment outlet A(ND)"},
        {"date":"2019-03-13","value":0.71,"series":"Equipment outlet A(ND)"},

        {"date":"2014-09-22","value":0.36,"series":"Equipment outlet B(ND)"},
        {"date":"2014-09-25","value":0.4,"series":"Equipment outlet B(ND)"},
        {"date":"2014-11-15","value":0.82,"series":"Equipment outlet B(ND)"},
        {"date":"2015-08-29","value":0.92,"series":"Equipment outlet B(ND)"},
        {"date":"2015-09-08","value":0.56,"series":"Equipment outlet B(ND)"},
        {"date":"2015-09-12","value":0.53,"series":"Equipment outlet B(ND)"},
        {"date":"2015-10-01","value":0.55,"series":"Equipment outlet B(ND)"},
        {"date":"2015-10-15","value":0.52,"series":"Equipment outlet B(ND)"},
        {"date":"2015-11-20","value":0.5,"series":"Equipment outlet B(ND)"},
        {"date":"2015-12-10","value":0.52,"series":"Equipment outlet B(ND)"},
        {"date":"2016-01-20","value":0.55,"series":"Equipment outlet B(ND)"},
        {"date":"2016-03-27","value":0.53,"series":"Equipment outlet B(ND)"},
        {"date":"2016-04-12","value":0.5,"series":"Equipment outlet B(ND)"},
        {"date":"2016-05-10","value":0.55,"series":"Equipment outlet B(ND)"},
        {"date":"2016-05-25","value":0.52,"series":"Equipment outlet B(ND)"},
        {"date":"2016-06-10","value":0.5,"series":"Equipment outlet B(ND)"},
        {"date":"2016-06-28","value":0.53,"series":"Equipment outlet B(ND)"},
        {"date":"2016-07-15","value":0.5,"series":"Equipment outlet B(ND)"},
        {"date":"2016-08-05","value":0.5,"series":"Equipment outlet B(ND)"},
        {"date":"2016-08-25","value":0.53,"series":"Equipment outlet B(ND)"},
        {"date":"2016-09-15","value":0.5,"series":"Equipment outlet B(ND)"},
        {"date":"2016-09-28","value":0.52,"series":"Equipment outlet B(ND)"},
        {"date":"2016-10-15","value":0.55,"series":"Equipment outlet B(ND)"},
        {"date":"2016-10-25","value":0.5,"series":"Equipment outlet B(ND)"},
        {"date":"2016-11-10","value":0.55,"series":"Equipment outlet B(ND)"},
        {"date":"2016-11-28","value":0.52,"series":"Equipment outlet B(ND)"},
        {"date":"2016-12-15","value":0.5,"series":"Equipment outlet B(ND)"},
        {"date":"2016-12-28","value":0.6,"series":"Equipment outlet B(ND)"},
        {"date":"2017-01-16","value":0.56,"series":"Equipment outlet B(ND)"},
        {"date":"2017-04-03","value":0.44,"series":"Equipment outlet B(ND)"},
        {"date":"2017-06-05","value":0.5,"series":"Equipment outlet B(ND)"},
        {"date":"2017-08-02","value":0.6,"series":"Equipment outlet B(ND)"},
        {"date":"2017-10-30","value":0.62,"series":"Equipment outlet B(ND)"},
        {"date":"2017-12-19","value":0.44,"series":"Equipment outlet B(ND)"},
        {"date":"2018-02-25","value":0.42,"series":"Equipment outlet B(ND)"},
        {"date":"2018-06-20","value":0.45,"series":"Equipment outlet B(ND)"},
        {"date":"2018-08-28","value":0.42,"series":"Equipment outlet B(ND)"},
        {"date":"2018-09-12","value":0.45,"series":"Equipment outlet B(ND)"},
        {"date":"2018-09-30","value":0.53,"series":"Equipment outlet B(ND)"},
        {"date":"2018-10-24","value":0.56,"series":"Equipment outlet B(ND)"},
        {"date":"2018-11-17","value":0.5,"series":"Equipment outlet B(ND)"},
        {"date":"2018-12-20","value":0.47,"series":"Equipment outlet B(ND)"},
        {"date":"2019-03-06","value":0.44,"series":"Equipment outlet B(ND)"},

        {"date":"2014-09-28","value":0.45,"series":"Equipment outlet C(ND)"},
        {"date":"2014-10-02","value":0.5,"series":"Equipment outlet C(ND)"},
        {"date":"2014-10-21","value":0.45,"series":"Equipment outlet C(ND)"},
        {"date":"2015-01-18","value":9.6,"series":"Equipment outlet C(ND)"},
        {"date":"2015-07-08","value":0.56,"series":"Equipment outlet C(ND)"},
        {"date":"2015-08-04","value":0.9,"series":"Equipment outlet C(ND)"},
        {"date":"2015-09-04","value":2.0,"series":"Equipment outlet C(ND)"},
        {"date":"2015-09-18","value":0.55,"series":"Equipment outlet C(ND)"},
        {"date":"2015-09-28","value":0.52,"series":"Equipment outlet C(ND)"},
        {"date":"2015-10-10","value":0.55,"series":"Equipment outlet C(ND)"},
        {"date":"2015-10-25","value":0.53,"series":"Equipment outlet C(ND)"},
        {"date":"2015-11-15","value":0.52,"series":"Equipment outlet C(ND)"},
        {"date":"2015-12-09","value":0.5,"series":"Equipment outlet C(ND)"},
        {"date":"2016-01-09","value":0.56,"series":"Equipment outlet C(ND)"},
        {"date":"2016-01-20","value":0.53,"series":"Equipment outlet C(ND)"},
        {"date":"2016-01-30","value":0.56,"series":"Equipment outlet C(ND)"},
        {"date":"2016-04-01","value":0.52,"series":"Equipment outlet C(ND)"},
        {"date":"2016-04-20","value":0.56,"series":"Equipment outlet C(ND)"},
        {"date":"2016-05-08","value":0.6,"series":"Equipment outlet C(ND)"},
        {"date":"2016-05-18","value":0.6,"series":"Equipment outlet C(ND)"},
        {"date":"2016-06-08","value":0.52,"series":"Equipment outlet C(ND)"},
        {"date":"2016-06-20","value":0.55,"series":"Equipment outlet C(ND)"},
        {"date":"2016-07-01","value":0.5,"series":"Equipment outlet C(ND)"},
        {"date":"2016-07-12","value":0.52,"series":"Equipment outlet C(ND)"},
        {"date":"2016-07-25","value":0.5,"series":"Equipment outlet C(ND)"},
        {"date":"2016-08-08","value":0.55,"series":"Equipment outlet C(ND)"},
        {"date":"2016-08-18","value":0.56,"series":"Equipment outlet C(ND)"},
        {"date":"2016-08-28","value":0.5,"series":"Equipment outlet C(ND)"},
        {"date":"2016-09-10","value":0.52,"series":"Equipment outlet C(ND)"},
        {"date":"2016-09-20","value":0.55,"series":"Equipment outlet C(ND)"},
        {"date":"2016-10-05","value":0.5,"series":"Equipment outlet C(ND)"},
        {"date":"2016-10-18","value":0.52,"series":"Equipment outlet C(ND)"},
        {"date":"2016-10-28","value":0.55,"series":"Equipment outlet C(ND)"},
        {"date":"2016-11-08","value":0.55,"series":"Equipment outlet C(ND)"},
        {"date":"2016-11-20","value":0.5,"series":"Equipment outlet C(ND)"},
        {"date":"2016-12-10","value":0.52,"series":"Equipment outlet C(ND)"},
        {"date":"2016-12-22","value":0.55,"series":"Equipment outlet C(ND)"},
        {"date":"2017-01-05","value":0.5,"series":"Equipment outlet C(ND)"},
        {"date":"2017-01-12","value":0.52,"series":"Equipment outlet C(ND)"},
        {"date":"2017-03-17","value":0.78,"series":"Equipment outlet C(ND)"},
        {"date":"2017-05-22","value":0.63,"series":"Equipment outlet C(ND)"},
        {"date":"2017-06-01","value":0.44,"series":"Equipment outlet C(ND)"},
        {"date":"2017-06-16","value":0.53,"series":"Equipment outlet C(ND)"},
        {"date":"2017-10-10","value":0.56,"series":"Equipment outlet C(ND)"},
        {"date":"2017-11-21","value":0.56,"series":"Equipment outlet C(ND)"},
        {"date":"2018-04-10","value":0.63,"series":"Equipment outlet C(ND)"},
        {"date":"2018-06-04","value":0.63,"series":"Equipment outlet C(ND)"},
        {"date":"2018-06-25","value":0.71,"series":"Equipment outlet C(ND)"},
        {"date":"2018-07-10","value":0.63,"series":"Equipment outlet C(ND)"},
        {"date":"2018-08-20","value":0.5,"series":"Equipment outlet C(ND)"},
        {"date":"2018-09-02","value":0.56,"series":"Equipment outlet C(ND)"},
        {"date":"2018-09-18","value":0.63,"series":"Equipment outlet C(ND)"},
        {"date":"2018-10-10","value":0.6,"series":"Equipment outlet C(ND)"},
        {"date":"2018-10-25","value":0.55,"series":"Equipment outlet C(ND)"},
        {"date":"2018-11-20","value":0.56,"series":"Equipment outlet C(ND)"},
        {"date":"2018-12-11","value":0.53,"series":"Equipment outlet C(ND)"},
        {"date":"2019-01-31","value":0.44,"series":"Equipment outlet C(ND)"},
        {"date":"2019-03-24","value":0.47,"series":"Equipment outlet C(ND)"}
      ]},
      "mark": {"type": "point", "size": 112, "strokeWidth": 1.5, "opacity": 1},
      "encoding": {
        "x": {"field": "date", "type": "temporal",
          "scale": {"type": "utc", "domain": [{"year": 2013, "month": 4, "date": 1, "utc": true}, {"year": 2019, "month": 4, "date": 1, "utc": true}]},
          "axis": {"title": null,
            "values": [
              {"year": 2013, "month": 4, "date": 1, "utc": true},
              {"year": 2013, "month": 11, "date": 6, "utc": true},
              {"year": 2014, "month": 6, "date": 13, "utc": true},
              {"year": 2015, "month": 1, "date": 18, "utc": true},
              {"year": 2015, "month": 8, "date": 25, "utc": true},
              {"year": 2016, "month": 3, "date": 31, "utc": true},
              {"year": 2016, "month": 11, "date": 5, "utc": true},
              {"year": 2017, "month": 6, "date": 12, "utc": true},
              {"year": 2018, "month": 1, "date": 17, "utc": true},
              {"year": 2018, "month": 8, "date": 24, "utc": true},
              {"year": 2019, "month": 4, "date": 1, "utc": true}
            ],
            "labelExpr": "utcFormat(datum.value, '%Y/%-m/%-d')",
            "labelFont": "Liberation Sans", "labelFontSize": 23, "labelColor": "#595959", "labelPadding": 16.5,
            "labelOverlap": false, "labelFlush": false, "labelBound": false,
            "ticks": false, "domainColor": "#bfbfbf", "domainWidth": 1.3, "gridColor": "#d9d9d9", "gridWidth": 1.3}},
        "y": {"field": "value", "type": "quantitative",
          "scale": {"type": "log", "domain": [0.1, 1000000]},
          "axis": {"values": [0.1, 1, 10, 100, 1000, 10000, 100000, 1000000],
            "labelExpr": "format(datum.value, ',')",
            "labelFont": "Liberation Sans", "labelFontSize": 23.5, "labelColor": "#595959", "labelPadding": 22,
            "ticks": false, "domainColor": "#bfbfbf", "domainWidth": 1.3, "gridColor": "#d9d9d9", "gridWidth": 1.3,
            "gridOpacity": {"condition": {"test": "datum.value >= 1000000", "value": 0}, "value": 1},
            "title": "Antimony-125 concentration(Bq/L)", "titleFont": "Liberation Sans", "titleFontSize": 29.5, "titleFontWeight": "normal", "titleColor": "#000000",
            "titleAngle": -90, "titleX": -143, "titleY": 255, "titleAlign": "center", "titleBaseline": "middle"}},
        "fill": {"field": "series", "type": "nominal",
          "scale": {"domain": ["Prior to treatment", "Equipment outlet A", "Equipment outlet B", "Equipment outlet C", "Prior to treatment(ND)", "Equipment outlet A(ND)", "Equipment outlet B(ND)", "Equipment outlet C(ND)"],
            "range": ["#ff0000", "#0000ff", "#00b050", "#ffc000", "transparent", "transparent", "transparent", "transparent"]},
          "legend": {"orient": "none", "legendX": 814, "legendY": -53.3, "title": "\u00a0", "titleFontSize": 16, "titlePadding": 4.5,
            "direction": "vertical", "columns": 2, "columnPadding": 118, "rowPadding": 1.2, "symbolOffset": 27, "labelOffset": 14,
            "labelFont": "Liberation Sans", "labelFontSize": 16, "labelColor": "#000000", "labelLimit": 700,
            "padding": 8, "strokeColor": "#000000", "fillColor": "#ffffff", "symbolStrokeWidth": 1.5, "symbolSize": 120, "zindex": 1,
            "labelExpr": "indexof(datum.label, '(ND)') >= 0 ? datum.label + '\u00a0\u00a0\u00a0※1\u00a0\u00a0\u00a0\u00a0\u00a0\u00a0\u00a0\u00a0\u00a0\u00a0\u00a0\u00a0\u00a0\u00a0\u200b' : datum.label"}},
        "stroke": {"field": "series", "type": "nominal",
          "scale": {"domain": ["Prior to treatment", "Equipment outlet A", "Equipment outlet B", "Equipment outlet C", "Prior to treatment(ND)", "Equipment outlet A(ND)", "Equipment outlet B(ND)", "Equipment outlet C(ND)"],
            "range": ["#ff0000", "#0000ff", "#00b050", "#ffc000", "#000000", "#000000", "#000000", "#000000"]}},
        "shape": {"field": "series", "type": "nominal",
          "scale": {"domain": ["Prior to treatment", "Equipment outlet A", "Equipment outlet B", "Equipment outlet C", "Prior to treatment(ND)", "Equipment outlet A(ND)", "Equipment outlet B(ND)", "Equipment outlet C(ND)"],
            "range": ["circle", "square", "triangle-up", "diamond", "circle", "square", "triangle-up", "diamond"]}}
      }
    }
  ]
}
